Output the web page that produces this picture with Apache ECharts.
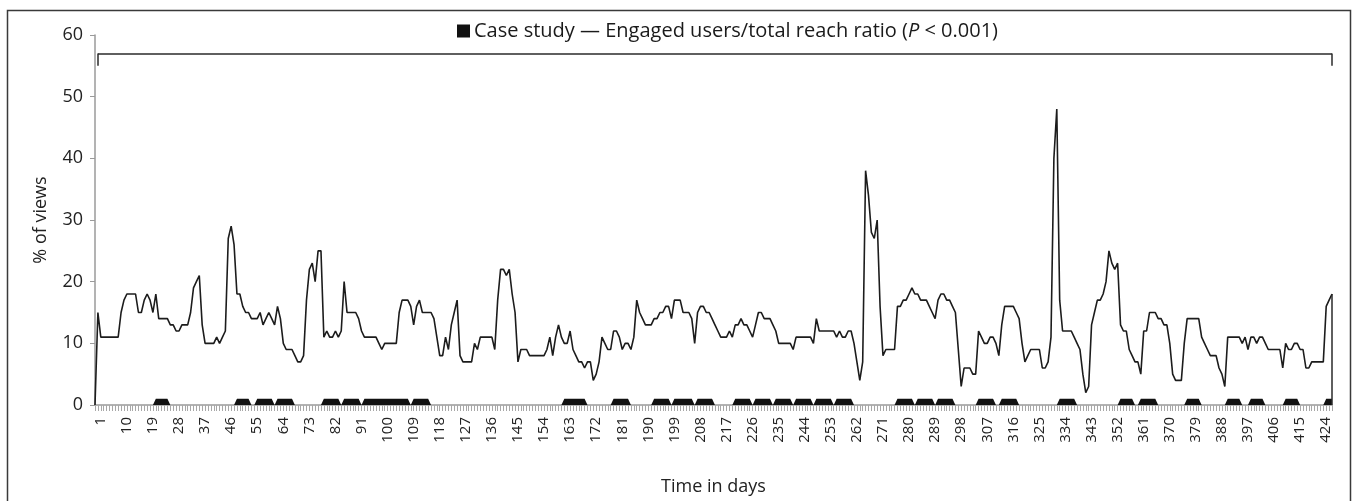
<!DOCTYPE html>
<html>
<head>
<meta charset="utf-8">
<script src="https://cdn.jsdelivr.net/npm/echarts@6/dist/echarts.min.js"></script>
<style>html,body{margin:0;padding:0;background:#fff}#c{width:1360px;height:501px}</style>
</head>
<body>
<div id="c"></div>
<script>
// Days on the category axis (two leading points before day 1)
const firstDay = -1, lastDay = 426;
const days = [];
for (let d = firstDay; d <= lastDay; d++) days.push(String(d));

// Labelled ticks
const tickDays = [1,10,19,28,37,46,55,64,73,82,91,100,109,118,127,136,145,154,163,172,181,190,199,208,217,226,235,244,253,262,271,280,289,298,307,316,325,334,343,352,361,370,379,388,397,406,415,424];

// % of views, days -1 .. 426
const viewsPct = [
0,15,
11,11,11,11,11,11,11,15,17,18,
18,18,18,15,15,17,18,17,15,18,
14,14,14,14,13,13,12,12,13,13,
13,15,19,20,21,13,10,10,10,10,
11,10,11,12,27,29,26,18,18,16,
15,15,14,14,14,15,13,14,15,14,
13,16,14,10,9,9,9,8,7,7,
8,17,22,23,20,25,25,11,12,11,
11,12,11,12,20,15,15,15,15,14,
12,11,11,11,11,11,10,9,10,10,
10,10,10,15,17,17,17,16,13,16,
17,15,15,15,15,14,11,8,8,11,
9,13,15,17,8,7,7,7,7,10,
9,11,11,11,11,11,9,17,22,22,
21,22,18,15,7,9,9,9,8,8,
8,8,8,8,9,11,8,11,13,11,
10,10,12,9,8,7,7,6,7,7,
4,5,7,11,10,9,9,12,12,11,
9,10,10,9,11,17,15,14,13,13,
13,14,14,15,15,16,16,14,17,17,
17,15,15,15,14,10,15,16,16,15,
15,14,13,12,11,11,11,12,11,13,
13,14,13,13,12,11,13,15,15,14,
14,14,13,12,10,10,10,10,10,9,
11,11,11,11,11,11,10,14,12,12,
12,12,12,12,11,12,11,11,12,12,
10,7,4,7,38,34,28,27,30,16,
8,9,9,9,9,16,16,17,17,18,
19,18,18,17,17,17,16,15,14,17,
18,18,17,17,16,15,9,3,6,6,
6,5,5,12,11,10,10,11,11,10,
8,13,16,16,16,16,15,14,10,7,
8,9,9,9,9,6,6,7,11,40,
48,17,12,12,12,12,11,10,9,5,
2,3,13,15,17,17,18,20,25,23,
22,23,13,12,12,9,8,7,7,5,
12,12,15,15,15,14,14,13,13,10,
5,4,4,4,10,14,14,14,14,14,
11,10,9,8,8,8,6,5,3,11,
11,11,11,11,10,11,9,11,11,10,
11,11,10,9,9,9,9,9,6,10,
9,9,10,10,9,9,6,6,7,7,
7,7,7,16,17,18
];

// Case-study periods (first day, last day)
const caseStudyPeriods = [[20,24],[48,52],[55,60],[62,67],[78,83],[85,90],[92,107],[109,114],[161,168],[178,183],[192,197],[199,205],[207,212],[220,225],[227,232],[234,239],[241,246],[248,253],[255,260],[276,281],[283,288],[290,295],[304,309],[312,317],[332,337],[353,357],[360,365],[376,380],[390,394],[398,402],[410,414],[424,426]];
const caseStudyLevel = 1;

const caseStudy = days.map(d => {
  const n = Number(d);
  return caseStudyPeriods.some(p => n >= p[0] && n <= p[1]) ? caseStudyLevel : 0;
});

// significance bracket
const bracketY = 57, bracketFoot = 55, bracketFrom = '0', bracketTo = '426';

const FONT = 'Open Sans';
const chart = echarts.init(document.getElementById('c'), null, {renderer: 'canvas'});
chart.setOption({
  animation: false,
  backgroundColor: '#fff',
  textStyle: {fontFamily: FONT},
  graphic: [{
    type: 'rect', silent: true, z: -1,
    shape: {x: 7.5, y: 10.5, width: 1343, height: 520},
    style: {fill: 'none', stroke: '#3a3a3a', lineWidth: 1.5}
  }],
  legend: {
    left: 452, top: 16,
    icon: 'rect', itemWidth: 13, itemHeight: 13, itemGap: 4,
    data: [{name: 'Case study', icon: 'rect', itemStyle: {color: '#111'}}],
    formatter: () => '{a|Case study — Engaged users/total reach ratio (}{i|P}{a| < 0.001)}',
    textStyle: {
      padding: [0, 0, 0, -1],
      rich: {
        a: {fontFamily: FONT, fontSize: 20, color: '#1a1a1a'},
        i: {fontFamily: FONT, fontSize: 20, color: '#1a1a1a', fontStyle: 'italic'}
      }
    }
  },
  grid: {left: 95, right: 28, top: 35, bottom: 91, containLabel: false},
  xAxis: {
    type: 'category', data: days, boundaryGap: false,
    name: 'Time in days', nameLocation: 'middle', nameGap: 73,
    nameTextStyle: {fontSize: 18, color: '#222', fontFamily: FONT},
    axisLine: {lineStyle: {color: '#9a9a9a', width: 1.5}},
    axisTick: {show: true, interval: 0, length: 6, lineStyle: {color: '#a8a8a8', width: 1}},
    axisLabel: {
      rotate: 90, fontSize: 15, color: '#222', margin: 12, fontFamily: FONT,
      interval: (i, v) => tickDays.indexOf(Number(v)) >= 0
    },
    splitLine: {show: false}
  },
  yAxis: {
    type: 'value', min: 0, max: 60, interval: 10,
    name: '% of views', nameLocation: 'middle', nameGap: 45, nameRotate: 90,
    nameTextStyle: {fontSize: 18, color: '#222', fontFamily: FONT},
    axisLine: {show: true, lineStyle: {color: '#9a9a9a', width: 1.5}},
    axisTick: {show: true, length: 5, lineStyle: {color: '#9a9a9a'}},
    axisLabel: {fontSize: 18, color: '#222', margin: 12, fontFamily: FONT},
    splitLine: {show: false}
  },
  series: [
    {
      name: 'Case study', type: 'line', data: caseStudy, z: 2,
      symbol: 'none', lineStyle: {width: 0}, itemStyle: {color: '#111'},
      areaStyle: {color: '#111', opacity: 1}
    },
    {
      name: '% of views', type: 'line', data: viewsPct, z: 3,
      symbol: 'none', lineStyle: {color: '#1c1c1c', width: 1.6},
      itemStyle: {color: '#1c1c1c'},
      markLine: {
        silent: true, symbol: ['none', 'none'], label: {show: false},
        lineStyle: {color: '#2a2a2a', width: 1.5, type: 'solid'},
        data: [
          [{coord: [bracketFrom, bracketY]}, {coord: [bracketTo, bracketY]}],
          [{coord: [bracketFrom, bracketY]}, {coord: [bracketFrom, bracketFoot]}],
          [{coord: [bracketTo, bracketY]}, {coord: [bracketTo, bracketFoot]}],
          [{coord: [String(lastDay), viewsPct[viewsPct.length - 1]]}, {coord: [String(lastDay), 0]}]
        ]
      }
    }
  ]
});
</script>
</body>
</html>
